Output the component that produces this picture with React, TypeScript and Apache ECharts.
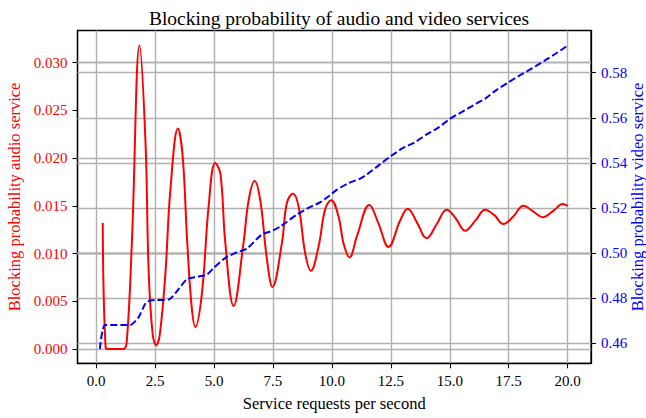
import React, { useEffect, useRef } from "react";
import * as echarts from "echarts";

const xTicks = [0, 2.5, 5, 7.5, 10, 12.5, 15, 17.5, 20];
const audioTicks = [0, 0.005, 0.01, 0.015, 0.02, 0.025, 0.03];
const videoTicks = [0.46, 0.48, 0.5, 0.52, 0.54, 0.56, 0.58];

const audioX = [
  0.28, 0.4, 0.55, 1.15, 1.3, 1.52, 1.84, 2.09, 2.23, 2.4, 2.55, 2.7, 2.94, 3.15, 3.47, 3.67,
  3.86, 4.05, 4.21, 4.49, 4.77, 5.05, 5.27, 5.48, 5.83, 6.25, 6.47, 6.72, 6.96, 7.25, 7.48,
  7.88, 8.09, 8.35, 8.59, 8.87, 9.11, 9.43, 9.72, 9.97, 10.28, 10.49, 10.75, 11.06, 11.59,
  11.97, 12.4, 12.9, 13.22, 13.6, 14.02, 14.45, 14.87, 15.25, 15.65, 16.1, 16.5, 16.9, 17.27,
  17.7, 18.12, 18.55, 18.94, 19.4, 19.79, 20.0,
];
const audioY = [
  0.0132, 0.0002, 0.0, 0.0, 0.0008, 0.0114, 0.0318, 0.0219, 0.008, 0.0015, 0.0004, 0.0015,
  0.008, 0.0167, 0.0231, 0.0202, 0.0114, 0.0045, 0.0023, 0.0059, 0.0149, 0.0195, 0.0184,
  0.0111, 0.0045, 0.0111, 0.0156, 0.0176, 0.0156, 0.0093, 0.0065, 0.0111, 0.0153, 0.0163,
  0.0149, 0.01, 0.0082, 0.0107, 0.0147, 0.0156, 0.0139, 0.0111, 0.0096, 0.0118, 0.0151,
  0.0132, 0.0107, 0.0135, 0.0147, 0.0133, 0.0116, 0.0131, 0.0146, 0.0137, 0.0124, 0.0135,
  0.0146, 0.014, 0.0131, 0.0139, 0.015, 0.0144, 0.0138, 0.0145, 0.0152, 0.015,
];

const videoX = [
  0.16, 0.38, 1.45, 1.8, 2.1, 2.3, 3.1, 3.5, 3.85, 4.3, 4.7, 5.0, 5.5, 6.0, 6.4, 7.0, 7.5,
  7.8, 8.1, 8.5, 9.0, 9.5, 9.9, 10.2, 10.7, 11.2, 11.5, 12.0, 12.5, 13.0, 13.5, 14.0, 14.5,
  15.0, 15.5, 16.0, 16.5, 17.0, 17.5, 18.0, 18.5, 19.0, 19.5, 20.0,
];
const videoY = [
  0.4575, 0.4681, 0.4681, 0.4715, 0.4778, 0.479, 0.4795, 0.484, 0.4884, 0.4895, 0.4905,
  0.4935, 0.498, 0.5005, 0.502, 0.508, 0.51, 0.5117, 0.5139, 0.517, 0.52, 0.5225, 0.5255,
  0.528, 0.531, 0.533, 0.535, 0.539, 0.543, 0.5465, 0.549, 0.5525, 0.5555, 0.5595, 0.5625,
  0.5655, 0.5685, 0.5725, 0.5758, 0.579, 0.582, 0.5852, 0.5885, 0.592,
];

const FONT = "Liberation Serif";

export default function App() {
  const ref = useRef<HTMLDivElement>(null);
  useEffect(() => {
    if (!ref.current) return;
    document.body.style.margin = "0";
    const chart = echarts.init(ref.current, null, { renderer: "svg" });
    const tick = { show: true, inside: false, length: 5, lineStyle: { color: "#000", width: 1.1 } };
    const axisLine = { show: true, onZero: false, lineStyle: { color: "#000", width: 1.3 } };
    const gridStyle = { color: "#b0b0b0", width: 1.4, type: "solid" };
    const gridMark = (lines: any[]) => ({
      silent: true,
      symbol: "none",
      animation: false,
      label: { show: false },
      emphasis: { disabled: true },
      lineStyle: gridStyle,
      z: 1,
      data: lines,
    });
    chart.setOption({
      animation: false,
      backgroundColor: "#fff",
      title: {
        text: "Blocking probability of audio and video services",
        left: 334,
        textAlign: "center",
        top: 3,
        textStyle: { fontFamily: FONT, fontSize: 19.5, fontWeight: "normal", color: "#000" },
      },
      grid: {
        left: 77.5,
        right: 55,
        top: 30.5,
        bottom: 54.7,
        outerBoundsMode: "none",
        containLabel: false,
        show: true,
        borderColor: "#000",
        borderWidth: 1.3,
        backgroundColor: "transparent",
      },
      xAxis: {
        type: "value",
        min: -0.79,
        max: 20.99,
        name: "Service requests per second",
        nameLocation: "middle",
        nameGap: 32,
        nameMoveOverlap: false,
        nameTextStyle: { fontFamily: FONT, fontSize: 16.5, color: "#000" },
        axisLine,
        axisTick: { ...tick, customValues: xTicks },
        axisLabel: {
          customValues: xTicks,
          margin: 10,
          fontFamily: FONT,
          fontSize: 15,
          color: "#000",
          formatter: (v: number) => v.toFixed(1),
        },
        splitLine: { show: false },
      },
      yAxis: [
        {
          type: "value",
          position: "left",
          min: -0.0015,
          max: 0.03338,
          name: "Blocking probability audio service",
          nameLocation: "middle",
          nameGap: 55,
          nameMoveOverlap: false,
          nameTextStyle: { fontFamily: FONT, fontSize: 16.5, color: "#ff0000" },
          axisLine,
          axisTick: { ...tick, customValues: audioTicks },
          axisLabel: {
            customValues: audioTicks,
            margin: 10,
            fontFamily: FONT,
            fontSize: 15,
            color: "#ff0000",
            formatter: (v: number) => v.toFixed(3),
          },
          splitLine: { show: false },
        },
        {
          type: "value",
          position: "right",
          min: 0.4511,
          max: 0.5987,
          name: "Blocking probability video service",
          nameLocation: "middle",
          nameGap: 38,
          nameRotate: 90,
          nameMoveOverlap: false,
          nameTextStyle: { fontFamily: FONT, fontSize: 16.5, color: "#0000ff" },
          axisLine,
          axisTick: { ...tick, customValues: videoTicks },
          axisLabel: {
            customValues: videoTicks,
            margin: 10,
            fontFamily: FONT,
            fontSize: 15,
            color: "#0000ff",
            formatter: (v: number) => v.toFixed(2),
          },
          splitLine: { show: false },
        },
      ],
      series: [
        {
          type: "line",
          yAxisIndex: 0,
          data: [],
          z: 1,
          silent: true,
          markLine: gridMark([
            ...xTicks.map((v) => ({ xAxis: v })),
            ...audioTicks.map((v) => ({ yAxis: v })),
          ]),
        },
        {
          type: "line",
          yAxisIndex: 1,
          data: [],
          z: 1,
          silent: true,
          markLine: gridMark(videoTicks.map((v) => ({ yAxis: v }))),
        },
        {
          type: "line",
          yAxisIndex: 0,
          z: 3,
          data: audioX.map((x, i) => [x, audioY[i]]),
          showSymbol: false,
          smooth: 0.4,
          lineStyle: { color: "#ff0000", width: 2 },
          itemStyle: { color: "#ff0000" },
        },
        {
          type: "line",
          yAxisIndex: 1,
          z: 3,
          data: videoX.map((x, i) => [x, videoY[i]]),
          showSymbol: false,
          smooth: 0.2,
          lineStyle: { color: "#0000ff", width: 2, type: [7, 3] },
          itemStyle: { color: "#0000ff" },
        },
      ],
    });
    return () => chart.dispose();
  }, []);
  return <div ref={ref} style={{ width: 646, height: 418 }} />;
}
